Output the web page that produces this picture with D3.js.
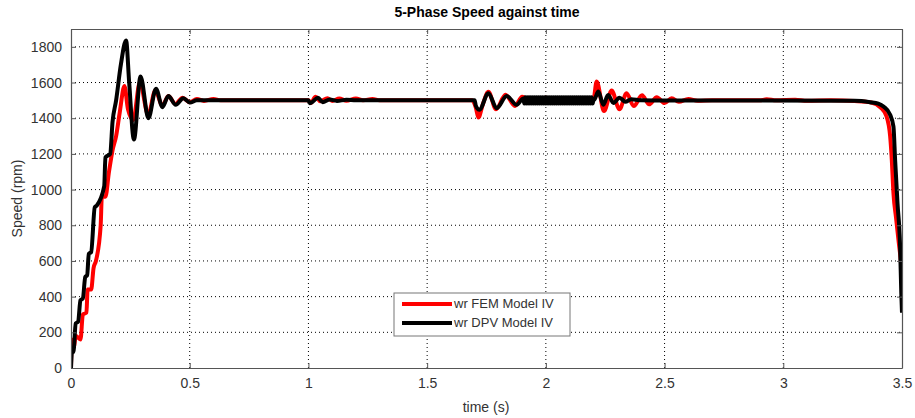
<!DOCTYPE html>
<html>
<head>
<meta charset="utf-8">
<script src="https://cdn.jsdelivr.net/npm/d3@7/dist/d3.min.js"></script>
<style>
    body { margin: 0; background: #fff; }
    text { font-family: "Liberation Sans Narrow", "Liberation Sans", Arial, sans-serif; }
</style>
</head>
<body>
<div id="chart"></div>
<script>
// tick values
const xTicks = [0, 0.5, 1, 1.5, 2, 2.5, 3, 3.5];
const yTicks = [0, 200, 400, 600, 800, 1000, 1200, 1400, 1600, 1800];

// wr FEM Model IV (red)
const femTime = [0, 0.003, 0.012, 0.02, 0.04, 0.05, 0.065, 0.07, 0.085, 0.095, 0.105, 0.125, 0.13, 0.145, 0.16, 0.175,
    0.19, 0.205, 0.225, 0.24, 0.262, 0.29, 0.325, 0.355, 0.385, 0.41, 0.44, 0.47, 0.5, 0.53, 0.56, 0.6, 0.63,
    1.0, 1.01, 1.03, 1.05, 1.08, 1.1, 1.13, 1.16, 1.2, 1.23, 1.27, 1.3,
    1.69, 1.705, 1.716, 1.735, 1.758, 1.79, 1.83, 1.87, 1.9, 1.95, 2.0, 2.05, 2.1, 2.15, 2.2,
    2.214, 2.245, 2.277, 2.31, 2.34, 2.37, 2.405, 2.435, 2.467, 2.5, 2.53, 2.56, 2.6, 2.64, 2.7,
    2.9, 2.93, 2.97, 3.05, 3.1, 3.2, 3.3, 3.37, 3.41, 3.435, 3.45, 3.457, 3.464, 3.475, 3.485, 3.495, 3.5];
const femSpeed = [0, 160, 120, 180, 160, 300, 310, 440, 440, 560, 600, 800, 960, 960, 1100, 1220,
    1300, 1430, 1580, 1450, 1390, 1600, 1420, 1555, 1470, 1525, 1480, 1515, 1490, 1508, 1497, 1508, 1500,
    1500, 1485, 1520, 1495, 1512, 1497, 1510, 1498, 1510, 1500, 1508, 1500,
    1500, 1460, 1404, 1480, 1548, 1450, 1532, 1468, 1520, 1485, 1515, 1488, 1512, 1490, 1500,
    1606, 1440, 1555, 1450, 1540, 1468, 1528, 1478, 1518, 1485, 1512, 1492, 1508, 1498, 1500,
    1500, 1506, 1500, 1504, 1498, 1500, 1496, 1488, 1460, 1410, 1300, 1167, 980, 840, 718, 600, 520];

// wr DPV Model IV (black)
const dpvTime = [0, 0.005, 0.01, 0.02, 0.03, 0.04, 0.05, 0.06, 0.068, 0.075, 0.085, 0.1, 0.108, 0.14, 0.145, 0.165,
    0.175, 0.19, 0.21, 0.232, 0.245, 0.265, 0.293, 0.326, 0.358, 0.385, 0.41, 0.441, 0.473, 0.501, 0.53,
    1.0, 1.005, 1.015, 1.04, 1.06, 1.09, 1.12, 1.16, 1.2,
    1.7, 1.705, 1.72, 1.758, 1.793, 1.835, 1.877, 1.905,
    1.909, 1.913, 1.917, 1.921, 1.925, 1.929, 1.933, 1.937, 1.941, 1.945, 1.949, 1.953, 1.957, 1.961, 1.965,
    1.969, 1.973, 1.977, 1.981, 1.985, 1.989, 1.993, 1.997, 2.001, 2.005, 2.009, 2.013, 2.017, 2.021, 2.025,
    2.029, 2.033, 2.037, 2.041, 2.045, 2.049, 2.053, 2.057, 2.061, 2.065, 2.069, 2.073, 2.077, 2.081, 2.085,
    2.089, 2.093, 2.097, 2.101, 2.105, 2.109, 2.113, 2.117, 2.121, 2.125, 2.129, 2.133, 2.137, 2.141, 2.145,
    2.149, 2.153, 2.157, 2.161, 2.165, 2.169, 2.173, 2.177, 2.181, 2.185, 2.189, 2.193, 2.197, 2.2,
    2.205, 2.221, 2.242, 2.262, 2.285, 2.31, 2.335, 2.36, 2.4,
    3.3, 3.366, 3.4, 3.422, 3.45, 3.464, 3.471, 3.481, 3.492, 3.497, 3.5];
const dpvSpeed = [0, 100, 90, 250, 260, 380, 390, 510, 520, 640, 650, 900, 910, 1020, 1180, 1200,
    1380, 1500, 1700, 1836, 1600, 1280, 1634, 1400, 1565, 1462, 1525, 1475, 1512, 1488, 1500,
    1500, 1484, 1490, 1515, 1490, 1505, 1497, 1503, 1500,
    1500, 1470, 1447, 1540, 1456, 1525, 1475, 1510,
    1482, 1518, 1482, 1518, 1482, 1518, 1482, 1518, 1482, 1518, 1482, 1518, 1482, 1518, 1482,
    1518, 1482, 1518, 1482, 1518, 1482, 1518, 1482, 1518, 1482, 1518, 1482, 1518, 1482, 1518,
    1482, 1518, 1482, 1518, 1482, 1518, 1482, 1518, 1482, 1518, 1482, 1518, 1482, 1518, 1482,
    1518, 1482, 1518, 1482, 1518, 1482, 1518, 1482, 1518, 1482, 1518, 1482, 1518, 1482, 1518,
    1482, 1518, 1482, 1518, 1482, 1518, 1482, 1518, 1482, 1518, 1482, 1518, 1482, 1500,
    1505, 1550, 1475, 1530, 1485, 1515, 1492, 1506, 1500,
    1498, 1490, 1482, 1466, 1419, 1353, 1167, 924, 680, 419, 310];

const seriesNames = ["wr FEM Model IV", "wr DPV Model IV"];
const seriesColors = ["#ff0000", "#000000"];

const width = 915, height = 418;
const margin = {left: 71, right: 13, top: 29, bottom: 50};
const innerW = width - margin.left - margin.right;
const innerH = height - margin.top - margin.bottom;

const svg = d3.select("#chart").append("svg")
    .attr("width", width)
    .attr("height", height);

const x = d3.scaleLinear().domain([0, 3.5]).range([margin.left, margin.left + innerW]);
const y = d3.scaleLinear().domain([0, 1900]).range([margin.top + innerH, margin.top]);

const axisColor = "#555";
const labelColor = "#333";

// grid
const grid = svg.append("g").attr("class", "grid");
grid.selectAll(".gx").data(xTicks.slice(1, -1)).enter().append("line")
    .attr("x1", d => x(d)).attr("x2", d => x(d))
    .attr("y1", y(0)).attr("y2", y(1900))
    .attr("stroke", "#000").attr("stroke-width", 1).attr("stroke-dasharray", "1,3");
grid.selectAll(".gy").data(yTicks.slice(1)).enter().append("line")
    .attr("x1", x(0)).attr("x2", x(3.5))
    .attr("y1", d => y(d)).attr("y2", d => y(d))
    .attr("stroke", "#000").attr("stroke-width", 1).attr("stroke-dasharray", "1,3");

// curves
svg.append("clipPath").attr("id", "clip").append("rect")
    .attr("x", margin.left).attr("y", margin.top).attr("width", innerW).attr("height", innerH);

const line = d3.line().x(d => x(d[0])).y(d => y(d[1])).curve(d3.curveMonotoneX);
const series = [
    d3.zip(femTime, femSpeed),
    d3.zip(dpvTime, dpvSpeed)
];
svg.append("g").attr("clip-path", "url(#clip)")
    .selectAll("path").data(series).enter().append("path")
    .attr("d", line)
    .attr("fill", "none")
    .attr("stroke", (d, i) => seriesColors[i])
    .attr("stroke-width", 4)
    .attr("stroke-linejoin", "round");

// axes (ticks inward, box)
const fmt = d => String(d);
const axB = svg.append("g").attr("transform", `translate(0,${y(0)})`)
    .call(d3.axisBottom(x).tickValues(xTicks).tickFormat(fmt).tickSizeInner(-5).tickSizeOuter(0).tickPadding(10));
const axT = svg.append("g").attr("transform", `translate(0,${y(1900)})`)
    .call(d3.axisTop(x).tickValues(xTicks).tickFormat("").tickSizeInner(-5).tickSizeOuter(0));
const axL = svg.append("g").attr("transform", `translate(${x(0)},0)`)
    .call(d3.axisLeft(y).tickValues(yTicks).tickFormat(fmt).tickSizeInner(-5).tickSizeOuter(0).tickPadding(9));
const axR = svg.append("g").attr("transform", `translate(${x(3.5)},0)`)
    .call(d3.axisRight(y).tickValues(yTicks).tickFormat("").tickSizeInner(-5).tickSizeOuter(0));

[axB, axT, axL, axR].forEach(a => {
    a.select(".domain").attr("stroke", axisColor).attr("stroke-width", 1.2);
    a.selectAll(".tick line").attr("stroke", axisColor);
    a.selectAll(".tick text").attr("fill", labelColor).style("font-size", "14px")
        .style("font-family", '"Liberation Sans Narrow", "Liberation Sans", Arial, sans-serif');
});

// titles
svg.append("text")
    .attr("x", 487).attr("y", 17)
    .attr("text-anchor", "middle")
    .style("font-size", "14px").style("font-weight", "bold")
    .attr("fill", "#000")
    .text("5-Phase Speed against time");

svg.append("text")
    .attr("x", 486).attr("y", 412)
    .attr("text-anchor", "middle")
    .style("font-size", "14px").attr("fill", labelColor)
    .text("time (s)");

svg.append("text")
    .attr("transform", `translate(22,${(y(0) + y(1900)) / 2}) rotate(-90)`)
    .attr("text-anchor", "middle")
    .style("font-size", "14px").attr("fill", labelColor)
    .text("Speed (rpm)");

// legend
const legend = svg.append("g").attr("transform", "translate(394,293)");
legend.append("rect")
    .attr("width", 176).attr("height", 43)
    .attr("fill", "#fff").attr("stroke", "#777").attr("stroke-width", 1);
seriesNames.forEach((name, i) => {
    const ly = 11 + i * 19;
    legend.append("line")
        .attr("x1", 8).attr("x2", 58).attr("y1", ly).attr("y2", ly)
        .attr("stroke", seriesColors[i]).attr("stroke-width", 4);
    legend.append("text")
        .attr("x", 60).attr("y", ly + 4)
        .style("font-size", "13px").attr("fill", labelColor)
        .text(name);
});
</script>
</body>
</html>
